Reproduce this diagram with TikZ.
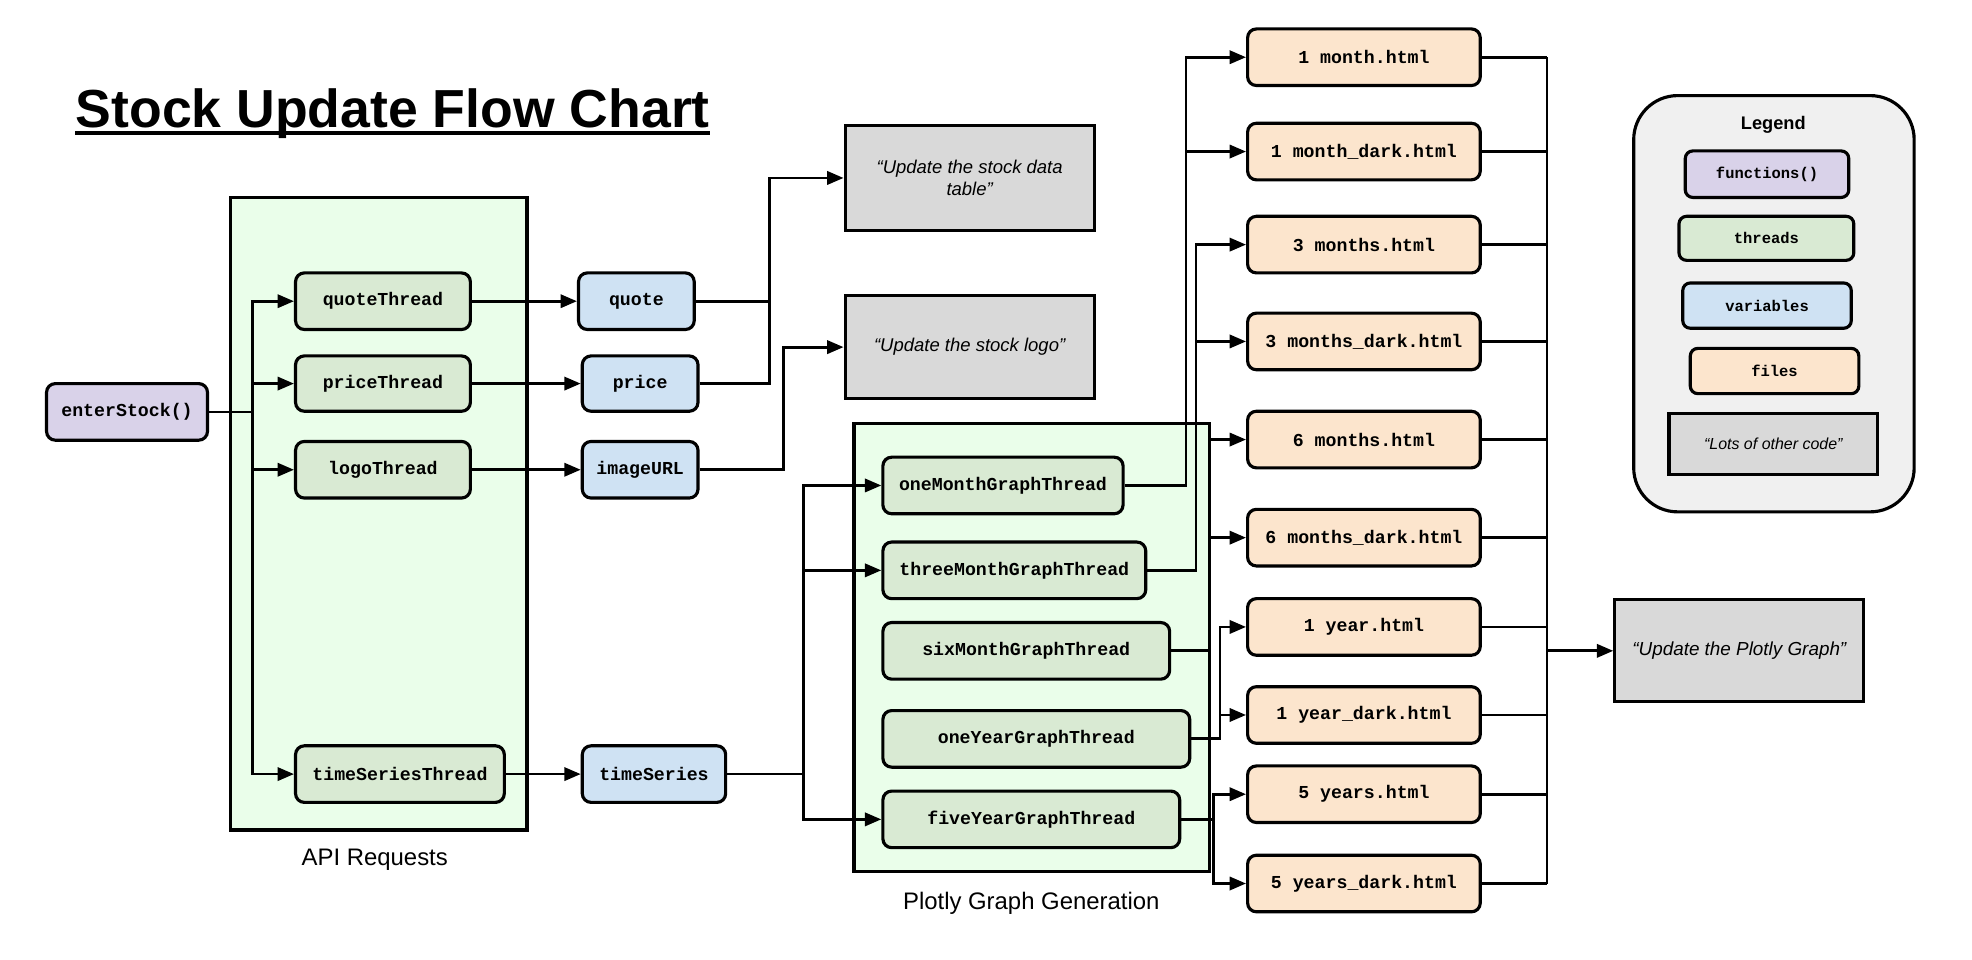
\documentclass[tikz,border=0pt]{standalone}
\usepackage{fontspec}
\setmainfont{Liberation Sans}
\newfontfamily\monof{Liberation Mono}
\usetikzlibrary{arrows.meta,calc}
\definecolor{funcc}{HTML}{D9D2E9}
\definecolor{thrc}{HTML}{D9EAD3}
\definecolor{varc}{HTML}{CFE2F3}
\definecolor{filec}{HTML}{FCE5CD}
\definecolor{grayc}{HTML}{D9D9D9}
\definecolor{contc}{HTML}{EAFEEA}
\definecolor{legc}{HTML}{F0F0F0}
\begin{document}
\begin{tikzpicture}[x=1pt,y=-1pt,
  wh/.style 2 args={minimum width=#1pt, minimum height=#2pt},
  box/.style={draw, line width=2.5pt, rounded corners=7pt, inner sep=0pt,
    font=\monof\bfseries\fontsize{14.5}{17}\selectfont},
  lbox/.style={box, rounded corners=6pt, font=\monof\bfseries\fontsize{12.3}{15}\selectfont},
  func/.style={fill=funcc}, thr/.style={fill=thrc}, var/.style={fill=varc}, fil/.style={fill=filec},
  note/.style={draw, line width=2.5pt, fill=grayc, inner sep=0pt, align=center,
    font=\itshape\fontsize{14.7}{18}\selectfont},
  cont/.style={draw, line width=2.5pt, fill=contc, inner sep=0pt},
  lab/.style={inner sep=0pt, font=\fontsize{19}{23}\selectfont},
  ln/.style={line width=2.2pt},
  conn/.style={line width=2.2pt, -{Triangle[length=13pt,width=10.5pt]}}
]
\useasboundingbox (0,0) rectangle (1568,763);
\fill[white] (0,0) rectangle (1568,763);

% title
\node[inner sep=0pt, anchor=base west, font=\bfseries\fontsize{42.6}{50}\selectfont] (title) at (60,101) {Stock Update Flow Chart};
\draw[line width=3.2pt] ([yshift=-4.5pt]title.base west) -- ([yshift=-4.5pt]title.base east);

% containers
\node[cont, wh={236}{503}] (api) at (301,408.5) {};
\node[lab] (apil) at (298,684) {API Requests};
\node[cont, wh={283}{356}] (plot) at (820.5,515) {};
\node[lab] (plotl) at (820,718) {Plotly Graph Generation};

% legend
\node[draw, line width=2.5pt, fill=legc, rounded corners=35pt, wh={223}{331}, inner sep=0pt] (leg) at (1410.5,241.5) {};
\node[inner sep=0pt, font=\bfseries\fontsize{14.5}{17}\selectfont] (legt) at (1410,99) {Legend};
\node[lbox, func, wh={130}{37}] (lf) at (1405,138.5) {functions()};
\node[lbox, thr, wh={139}{35}] (lt) at (1404.5,189.5) {threads};
\node[lbox, var, wh={134}{36}] (lv) at (1405,243) {variables};
\node[lbox, fil, wh={134}{36}] (lfi) at (1411,295) {files};
\node[note, wh={166}{48}, font=\itshape\fontsize{12.7}{15}\selectfont] (lo) at (1410,353) {“Lots of other code”};

% left nodes
\node[box, func, wh={128}{45}] (enter) at (101,327.5) {enterStock()};
\node[box, thr, wh={139}{45}] (qT) at (304.5,239.5) {quoteThread};
\node[box, thr, wh={139}{44}] (pT) at (304.5,305) {priceThread};
\node[box, thr, wh={139}{45}] (lT) at (304.5,373.5) {logoThread};
\node[box, thr, wh={166}{45}] (tsT) at (318,615.5) {timeSeriesThread};
\node[box, var, wh={92}{45}] (quote) at (506,239.5) {quote};
\node[box, var, wh={92}{44}] (price) at (509,305) {price};
\node[box, var, wh={92}{45}] (img) at (509,373.5) {imageURL};
\node[box, var, wh={114}{45}] (ts) at (520,615.5) {timeSeries};
\node[note, wh={198}{83}] (upd1) at (771,141.5) {“Update the stock data\\table”};
\node[note, wh={198}{82}] (upd2) at (771,276) {“Update the stock logo”};

% graph threads
\node[box, thr, wh={191}{45}] (oneM) at (797.5,386) {oneMonthGraphThread};
\node[box, thr, wh={209}{45}] (threeM) at (806.5,453.5) {threeMonthGraphThread};
\node[box, thr, wh={228}{45}] (sixM) at (816,517.5) {sixMonthGraphThread};
\node[box, thr, wh={244}{45}] (oneY) at (824,587.5) {oneYearGraphThread};
\node[box, thr, wh={236}{45}] (fiveY) at (820,651.5) {fiveYearGraphThread};

% files
\node[box, fil, wh={185}{45}] (f1) at (1084.5,45.5) {1 month.html};
\node[box, fil, wh={185}{45}] (f2) at (1084.5,120.5) {1 month\_dark.html};
\node[box, fil, wh={185}{45}] (f3) at (1084.5,194.5) {3 months.html};
\node[box, fil, wh={185}{45}] (f4) at (1084.5,271.5) {3 months\_dark.html};
\node[box, fil, wh={185}{45}] (f5) at (1084.5,349.5) {6 months.html};
\node[box, fil, wh={185}{45}] (f6) at (1084.5,427.5) {6 months\_dark.html};
\node[box, fil, wh={185}{45}] (f7) at (1084.5,498.5) {1 year.html};
\node[box, fil, wh={185}{45}] (f8) at (1084.5,568.5) {1 year\_dark.html};
\node[box, fil, wh={185}{45}] (f9) at (1084.5,631.5) {5 years.html};
\node[box, fil, wh={185}{45}] (f10) at (1084.5,702.5) {5 years\_dark.html};
\node[note, wh={198}{81}, font=\itshape\fontsize{15}{18}\selectfont] (updP) at (1383,517.5) {“Update the Plotly Graph”};

% connectors: enterStock to threads
\coordinate (b1) at (201,327.5);
\draw[ln] (enter.east) -- (b1);
\draw[conn] (b1) |- (qT.west);
\draw[conn] (b1) |- (pT.west);
\draw[conn] (b1) |- (lT.west);
\draw[conn] (b1) |- (tsT.west);
\draw[conn] (qT) -- (quote);
\draw[conn] (pT) -- (price);
\draw[conn] (lT) -- (img);
\draw[conn] (tsT) -- (ts);

% variables to updates
\coordinate (j1) at (612,141.5);
\draw[conn] (quote.east) -| (j1) -- (upd1.west);
\draw[ln] (price.east) -| (j1);
\coordinate (j2) at (623,276);
\draw[conn] (img.east) -| (j2) -- (upd2.west);

% timeSeries to graph threads
\coordinate (j3) at (639,615.5);
\draw[ln] (ts.east) -- (j3);
\draw[conn] (j3) |- (oneM.west);
\draw[conn] (j3) |- (threeM.west);
\draw[conn] (j3) |- (fiveY.west);

% graph threads to files
\coordinate (j4a) at (943,45.5);  \coordinate (j4b) at (943,120.5);
\draw[conn] (oneM.east) -| (j4a) -- (f1.west);
\draw[conn] (j4b) -- (f2.west);
\coordinate (j5a) at (951,194.5); \coordinate (j5b) at (951,271.5);
\draw[conn] (threeM.east) -| (j5a) -- (f3.west);
\draw[conn] (j5b) -- (f4.west);
\coordinate (j6a) at (962,349.5); \coordinate (j6b) at (962,427.5);
\draw[conn] (sixM.east) -| (j6a) -- (f5.west);
\draw[conn] (j6b) -- (f6.west);
\coordinate (j7a) at (970,498.5); \coordinate (j7b) at (970,568.5);
\draw[conn] (oneY.east) -| (j7a) -- (f7.west);
\draw[conn] (j7b) -- (f8.west);
\coordinate (j8a) at (965,631.5); \coordinate (j8b) at (965,702.5);
\draw[conn] (fiveY.east) -| (j8a) -- (f9.west);
\draw[conn] (fiveY.east) -| (j8b) -- (f10.west);

% files to Plotly update
\coordinate (col) at (1230,517.5);
\foreach \f in {f1,f2,f3,f4,f5,f6,f7,f8,f9,f10} {
  \draw[ln] (\f.east) -- (\f.east -| col);
}
\draw[ln] (f1.east -| col) -- (f10.east -| col);
\draw[conn] (col) -- (updP.west);
\end{tikzpicture}
\end{document}
